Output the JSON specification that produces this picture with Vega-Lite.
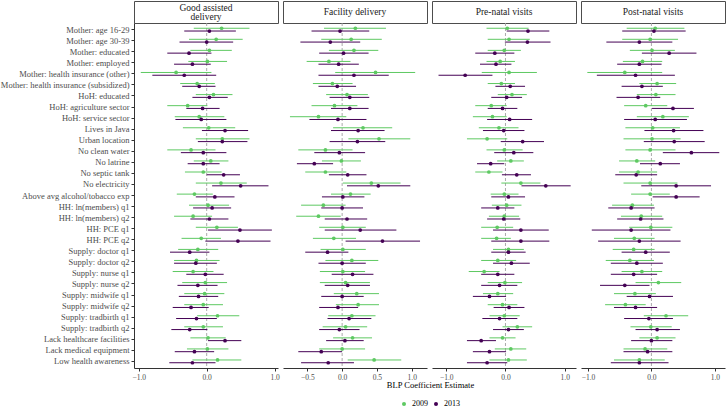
{
"$schema":"https://vega.github.io/schema/vega-lite/v6.json",
"padding":{"left":0,"top":0,"right":0,"bottom":0},
"bounds":"flush",
"columns":4,
"spacing":{"row":0,"column":5},
"datasets":{"est":[
{"o":"A","v":"Mother: age 16-29","yr":"2009","est":0.22,"lo":-0.19,"hi":0.63},
{"o":"A","v":"Mother: age 16-29","yr":"2013","est":0.04,"lo":-0.33,"hi":0.43},
{"o":"A","v":"Mother: age 30-39","yr":"2009","est":0.14,"lo":-0.26,"hi":0.53},
{"o":"A","v":"Mother: age 30-39","yr":"2013","est":0.00,"lo":-0.40,"hi":0.39},
{"o":"A","v":"Mother: educated","yr":"2009","est":0.04,"lo":-0.24,"hi":0.37},
{"o":"A","v":"Mother: educated","yr":"2013","est":-0.26,"lo":-0.58,"hi":0.07},
{"o":"A","v":"Mother: employed","yr":"2009","est":0.01,"lo":-0.27,"hi":0.30},
{"o":"A","v":"Mother: employed","yr":"2013","est":-0.21,"lo":-0.48,"hi":0.06},
{"o":"A","v":"Mother: health insurance (other)","yr":"2009","est":-0.45,"lo":-0.97,"hi":0.07},
{"o":"A","v":"Mother: health insurance (other)","yr":"2013","est":-0.33,"lo":-0.80,"hi":0.14},
{"o":"A","v":"Mother: health insurance (subsidized)","yr":"2009","est":-0.14,"lo":-0.39,"hi":0.12},
{"o":"A","v":"Mother: health insurance (subsidized)","yr":"2013","est":-0.11,"lo":-0.36,"hi":0.13},
{"o":"A","v":"HoH: educated","yr":"2009","est":0.10,"lo":-0.16,"hi":0.38},
{"o":"A","v":"HoH: educated","yr":"2013","est":0.04,"lo":-0.21,"hi":0.31},
{"o":"A","v":"HoH: agriculture sector","yr":"2009","est":-0.28,"lo":-0.58,"hi":0.01},
{"o":"A","v":"HoH: agriculture sector","yr":"2013","est":-0.06,"lo":-0.30,"hi":0.19},
{"o":"A","v":"HoH: service sector","yr":"2009","est":-0.11,"lo":-0.47,"hi":0.26},
{"o":"A","v":"HoH: service sector","yr":"2013","est":-0.08,"lo":-0.46,"hi":0.29},
{"o":"A","v":"Lives in Java","yr":"2009","est":0.03,"lo":-0.35,"hi":0.42},
{"o":"A","v":"Lives in Java","yr":"2013","est":0.27,"lo":-0.07,"hi":0.61},
{"o":"A","v":"Urban location","yr":"2009","est":0.23,"lo":-0.16,"hi":0.63},
{"o":"A","v":"Urban location","yr":"2013","est":0.23,"lo":-0.13,"hi":0.60},
{"o":"A","v":"No clean water","yr":"2009","est":-0.23,"lo":-0.58,"hi":0.13},
{"o":"A","v":"No clean water","yr":"2013","est":-0.05,"lo":-0.38,"hi":0.29},
{"o":"A","v":"No latrine","yr":"2009","est":0.06,"lo":-0.19,"hi":0.32},
{"o":"A","v":"No latrine","yr":"2013","est":-0.05,"lo":-0.28,"hi":0.19},
{"o":"A","v":"No septic tank","yr":"2009","est":-0.05,"lo":-0.32,"hi":0.22},
{"o":"A","v":"No septic tank","yr":"2013","est":0.25,"lo":0.00,"hi":0.49},
{"o":"A","v":"No electricity","yr":"2009","est":0.21,"lo":-0.16,"hi":0.59},
{"o":"A","v":"No electricity","yr":"2013","est":0.50,"lo":0.08,"hi":0.91},
{"o":"A","v":"Above avg alcohol/tobacco exp","yr":"2009","est":-0.18,"lo":-0.44,"hi":0.09},
{"o":"A","v":"Above avg alcohol/tobacco exp","yr":"2013","est":0.12,"lo":-0.16,"hi":0.41},
{"o":"A","v":"HH: ln(members) q1","yr":"2009","est":0.02,"lo":-0.26,"hi":0.33},
{"o":"A","v":"HH: ln(members) q1","yr":"2013","est":0.08,"lo":-0.20,"hi":0.36},
{"o":"A","v":"HH: ln(members) q2","yr":"2009","est":-0.20,"lo":-0.48,"hi":0.08},
{"o":"A","v":"HH: ln(members) q2","yr":"2013","est":0.04,"lo":-0.24,"hi":0.32},
{"o":"A","v":"HH: PCE q1","yr":"2009","est":0.15,"lo":-0.16,"hi":0.46},
{"o":"A","v":"HH: PCE q1","yr":"2013","est":0.49,"lo":0.02,"hi":0.96},
{"o":"A","v":"HH: PCE q2","yr":"2009","est":-0.08,"lo":-0.37,"hi":0.21},
{"o":"A","v":"HH: PCE q2","yr":"2013","est":0.46,"lo":-0.02,"hi":0.94},
{"o":"A","v":"Supply: doctor q1","yr":"2009","est":-0.13,"lo":-0.42,"hi":0.17},
{"o":"A","v":"Supply: doctor q1","yr":"2013","est":-0.25,"lo":-0.54,"hi":0.04},
{"o":"A","v":"Supply: doctor q2","yr":"2009","est":-0.15,"lo":-0.48,"hi":0.19},
{"o":"A","v":"Supply: doctor q2","yr":"2013","est":-0.16,"lo":-0.48,"hi":0.15},
{"o":"A","v":"Supply: nurse q1","yr":"2009","est":-0.20,"lo":-0.50,"hi":0.10},
{"o":"A","v":"Supply: nurse q1","yr":"2013","est":-0.02,"lo":-0.30,"hi":0.25},
{"o":"A","v":"Supply: nurse q2","yr":"2009","est":-0.02,"lo":-0.36,"hi":0.30},
{"o":"A","v":"Supply: nurse q2","yr":"2013","est":-0.13,"lo":-0.43,"hi":0.16},
{"o":"A","v":"Supply: midwife q1","yr":"2009","est":-0.03,"lo":-0.33,"hi":0.26},
{"o":"A","v":"Supply: midwife q1","yr":"2013","est":-0.12,"lo":-0.41,"hi":0.17},
{"o":"A","v":"Supply: midwife q2","yr":"2009","est":-0.05,"lo":-0.33,"hi":0.24},
{"o":"A","v":"Supply: midwife q2","yr":"2013","est":-0.23,"lo":-0.50,"hi":0.03},
{"o":"A","v":"Supply: tradbirth q1","yr":"2009","est":0.16,"lo":-0.14,"hi":0.48},
{"o":"A","v":"Supply: tradbirth q1","yr":"2013","est":-0.15,"lo":-0.45,"hi":0.15},
{"o":"A","v":"Supply: tradbirth q2","yr":"2009","est":-0.05,"lo":-0.33,"hi":0.24},
{"o":"A","v":"Supply: tradbirth q2","yr":"2013","est":-0.25,"lo":-0.52,"hi":0.01},
{"o":"A","v":"Lack healthcare facilities","yr":"2009","est":0.02,"lo":-0.24,"hi":0.28},
{"o":"A","v":"Lack healthcare facilities","yr":"2013","est":0.27,"lo":0.02,"hi":0.51},
{"o":"A","v":"Lack medical equipment","yr":"2009","est":0.01,"lo":-0.29,"hi":0.32},
{"o":"A","v":"Lack medical equipment","yr":"2013","est":-0.18,"lo":-0.47,"hi":0.11},
{"o":"A","v":"Low health awareness","yr":"2009","est":0.16,"lo":-0.21,"hi":0.51},
{"o":"A","v":"Low health awareness","yr":"2013","est":-0.21,"lo":-0.55,"hi":0.13},
{"o":"B","v":"Mother: age 16-29","yr":"2009","est":0.19,"lo":-0.26,"hi":0.63},
{"o":"B","v":"Mother: age 16-29","yr":"2013","est":-0.03,"lo":-0.44,"hi":0.39},
{"o":"B","v":"Mother: age 30-39","yr":"2009","est":0.13,"lo":-0.30,"hi":0.57},
{"o":"B","v":"Mother: age 30-39","yr":"2013","est":-0.17,"lo":-0.60,"hi":0.26},
{"o":"B","v":"Mother: educated","yr":"2009","est":0.17,"lo":-0.19,"hi":0.52},
{"o":"B","v":"Mother: educated","yr":"2013","est":0.02,"lo":-0.33,"hi":0.38},
{"o":"B","v":"Mother: employed","yr":"2009","est":-0.19,"lo":-0.51,"hi":0.12},
{"o":"B","v":"Mother: employed","yr":"2013","est":-0.05,"lo":-0.34,"hi":0.24},
{"o":"B","v":"Mother: health insurance (other)","yr":"2009","est":0.48,"lo":-0.10,"hi":1.05},
{"o":"B","v":"Mother: health insurance (other)","yr":"2013","est":0.17,"lo":-0.34,"hi":0.67},
{"o":"B","v":"Mother: health insurance (subsidized)","yr":"2009","est":-0.14,"lo":-0.42,"hi":0.15},
{"o":"B","v":"Mother: health insurance (subsidized)","yr":"2013","est":-0.07,"lo":-0.34,"hi":0.20},
{"o":"B","v":"HoH: educated","yr":"2009","est":0.07,"lo":-0.23,"hi":0.37},
{"o":"B","v":"HoH: educated","yr":"2013","est":0.11,"lo":-0.18,"hi":0.39},
{"o":"B","v":"HoH: agriculture sector","yr":"2009","est":-0.11,"lo":-0.44,"hi":0.22},
{"o":"B","v":"HoH: agriculture sector","yr":"2013","est":0.11,"lo":-0.16,"hi":0.38},
{"o":"B","v":"HoH: service sector","yr":"2009","est":-0.34,"lo":-0.75,"hi":0.06},
{"o":"B","v":"HoH: service sector","yr":"2013","est":-0.06,"lo":-0.47,"hi":0.35},
{"o":"B","v":"Lives in Java","yr":"2009","est":0.30,"lo":-0.13,"hi":0.72},
{"o":"B","v":"Lives in Java","yr":"2013","est":0.23,"lo":-0.16,"hi":0.61},
{"o":"B","v":"Urban location","yr":"2009","est":0.53,"lo":0.09,"hi":0.98},
{"o":"B","v":"Urban location","yr":"2013","est":0.22,"lo":-0.18,"hi":0.62},
{"o":"B","v":"No clean water","yr":"2009","est":-0.24,"lo":-0.63,"hi":0.15},
{"o":"B","v":"No clean water","yr":"2013","est":-0.04,"lo":-0.40,"hi":0.33},
{"o":"B","v":"No latrine","yr":"2009","est":-0.01,"lo":-0.29,"hi":0.27},
{"o":"B","v":"No latrine","yr":"2013","est":-0.40,"lo":-0.65,"hi":-0.13},
{"o":"B","v":"No septic tank","yr":"2009","est":-0.24,"lo":-0.53,"hi":0.06},
{"o":"B","v":"No septic tank","yr":"2013","est":0.08,"lo":-0.19,"hi":0.35},
{"o":"B","v":"No electricity","yr":"2009","est":0.42,"lo":0.01,"hi":0.84},
{"o":"B","v":"No electricity","yr":"2013","est":0.52,"lo":0.07,"hi":0.98},
{"o":"B","v":"Above avg alcohol/tobacco exp","yr":"2009","est":0.12,"lo":-0.16,"hi":0.41},
{"o":"B","v":"Above avg alcohol/tobacco exp","yr":"2013","est":0.01,"lo":-0.29,"hi":0.32},
{"o":"B","v":"HH: ln(members) q1","yr":"2009","est":-0.27,"lo":-0.59,"hi":0.05},
{"o":"B","v":"HH: ln(members) q1","yr":"2013","est":0.00,"lo":-0.30,"hi":0.30},
{"o":"B","v":"HH: ln(members) q2","yr":"2009","est":-0.34,"lo":-0.66,"hi":-0.02},
{"o":"B","v":"HH: ln(members) q2","yr":"2013","est":0.07,"lo":-0.25,"hi":0.36},
{"o":"B","v":"HH: PCE q1","yr":"2009","est":0.01,"lo":-0.33,"hi":0.34},
{"o":"B","v":"HH: PCE q1","yr":"2013","est":0.26,"lo":-0.25,"hi":0.78},
{"o":"B","v":"HH: PCE q2","yr":"2009","est":-0.12,"lo":-0.42,"hi":0.20},
{"o":"B","v":"HH: PCE q2","yr":"2013","est":0.58,"lo":0.05,"hi":1.12},
{"o":"B","v":"Supply: doctor q1","yr":"2009","est":0.01,"lo":-0.31,"hi":0.34},
{"o":"B","v":"Supply: doctor q1","yr":"2013","est":-0.21,"lo":-0.53,"hi":0.09},
{"o":"B","v":"Supply: doctor q2","yr":"2009","est":0.14,"lo":-0.24,"hi":0.52},
{"o":"B","v":"Supply: doctor q2","yr":"2013","est":0.00,"lo":-0.34,"hi":0.34},
{"o":"B","v":"Supply: nurse q1","yr":"2009","est":0.01,"lo":-0.32,"hi":0.33},
{"o":"B","v":"Supply: nurse q1","yr":"2013","est":0.15,"lo":-0.15,"hi":0.45},
{"o":"B","v":"Supply: nurse q2","yr":"2009","est":0.05,"lo":-0.32,"hi":0.40},
{"o":"B","v":"Supply: nurse q2","yr":"2013","est":0.08,"lo":-0.25,"hi":0.40},
{"o":"B","v":"Supply: midwife q1","yr":"2009","est":0.21,"lo":-0.12,"hi":0.53},
{"o":"B","v":"Supply: midwife q1","yr":"2013","est":0.00,"lo":-0.30,"hi":0.31},
{"o":"B","v":"Supply: midwife q2","yr":"2009","est":0.23,"lo":-0.09,"hi":0.53},
{"o":"B","v":"Supply: midwife q2","yr":"2013","est":-0.06,"lo":-0.33,"hi":0.23},
{"o":"B","v":"Supply: tradbirth q1","yr":"2009","est":0.14,"lo":-0.20,"hi":0.48},
{"o":"B","v":"Supply: tradbirth q1","yr":"2013","est":0.10,"lo":-0.21,"hi":0.42},
{"o":"B","v":"Supply: tradbirth q2","yr":"2009","est":0.05,"lo":-0.28,"hi":0.36},
{"o":"B","v":"Supply: tradbirth q2","yr":"2013","est":-0.04,"lo":-0.33,"hi":0.25},
{"o":"B","v":"Lack healthcare facilities","yr":"2009","est":0.15,"lo":-0.13,"hi":0.43},
{"o":"B","v":"Lack healthcare facilities","yr":"2013","est":0.04,"lo":-0.23,"hi":0.31},
{"o":"B","v":"Lack medical equipment","yr":"2009","est":0.00,"lo":-0.33,"hi":0.33},
{"o":"B","v":"Lack medical equipment","yr":"2013","est":-0.30,"lo":-0.63,"hi":0.00},
{"o":"B","v":"Low health awareness","yr":"2009","est":0.46,"lo":0.08,"hi":0.85},
{"o":"B","v":"Low health awareness","yr":"2013","est":-0.20,"lo":-0.59,"hi":0.17},
{"o":"C","v":"Mother: age 16-29","yr":"2009","est":0.03,"lo":-0.32,"hi":0.39},
{"o":"C","v":"Mother: age 16-29","yr":"2013","est":0.38,"lo":0.02,"hi":0.74},
{"o":"C","v":"Mother: age 30-39","yr":"2009","est":0.06,"lo":-0.30,"hi":0.41},
{"o":"C","v":"Mother: age 30-39","yr":"2013","est":0.37,"lo":-0.01,"hi":0.76},
{"o":"C","v":"Mother: educated","yr":"2009","est":-0.02,"lo":-0.30,"hi":0.26},
{"o":"C","v":"Mother: educated","yr":"2013","est":-0.18,"lo":-0.51,"hi":0.15},
{"o":"C","v":"Mother: employed","yr":"2009","est":-0.09,"lo":-0.32,"hi":0.16},
{"o":"C","v":"Mother: employed","yr":"2013","est":-0.16,"lo":-0.43,"hi":0.10},
{"o":"C","v":"Mother: health insurance (other)","yr":"2009","est":0.06,"lo":-0.40,"hi":0.53},
{"o":"C","v":"Mother: health insurance (other)","yr":"2013","est":-0.68,"lo":-1.13,"hi":-0.22},
{"o":"C","v":"Mother: health insurance (subsidized)","yr":"2009","est":-0.07,"lo":-0.30,"hi":0.16},
{"o":"C","v":"Mother: health insurance (subsidized)","yr":"2013","est":0.08,"lo":-0.17,"hi":0.33},
{"o":"C","v":"HoH: educated","yr":"2009","est":0.11,"lo":-0.13,"hi":0.36},
{"o":"C","v":"HoH: educated","yr":"2013","est":0.02,"lo":-0.24,"hi":0.28},
{"o":"C","v":"HoH: agriculture sector","yr":"2009","est":-0.24,"lo":-0.51,"hi":0.02},
{"o":"C","v":"HoH: agriculture sector","yr":"2013","est":-0.05,"lo":-0.30,"hi":0.20},
{"o":"C","v":"HoH: service sector","yr":"2009","est":-0.22,"lo":-0.55,"hi":0.02},
{"o":"C","v":"HoH: service sector","yr":"2013","est":0.07,"lo":-0.31,"hi":0.45},
{"o":"C","v":"Lives in Java","yr":"2009","est":-0.11,"lo":-0.45,"hi":0.22},
{"o":"C","v":"Lives in Java","yr":"2013","est":-0.03,"lo":-0.38,"hi":0.32},
{"o":"C","v":"Urban location","yr":"2009","est":-0.31,"lo":-0.65,"hi":0.03},
{"o":"C","v":"Urban location","yr":"2013","est":0.29,"lo":-0.08,"hi":0.65},
{"o":"C","v":"No clean water","yr":"2009","est":-0.02,"lo":-0.32,"hi":0.29},
{"o":"C","v":"No clean water","yr":"2013","est":0.14,"lo":-0.19,"hi":0.47},
{"o":"C","v":"No latrine","yr":"2009","est":0.09,"lo":-0.14,"hi":0.31},
{"o":"C","v":"No latrine","yr":"2013","est":-0.25,"lo":-0.48,"hi":-0.02},
{"o":"C","v":"No septic tank","yr":"2009","est":-0.28,"lo":-0.51,"hi":-0.05},
{"o":"C","v":"No septic tank","yr":"2013","est":0.19,"lo":-0.06,"hi":0.43},
{"o":"C","v":"No electricity","yr":"2009","est":0.26,"lo":-0.07,"hi":0.59},
{"o":"C","v":"No electricity","yr":"2013","est":0.68,"lo":0.27,"hi":1.10},
{"o":"C","v":"Above avg alcohol/tobacco exp","yr":"2009","est":-0.02,"lo":-0.25,"hi":0.22},
{"o":"C","v":"Above avg alcohol/tobacco exp","yr":"2013","est":0.05,"lo":-0.24,"hi":0.33},
{"o":"C","v":"HH: ln(members) q1","yr":"2009","est":0.02,"lo":-0.23,"hi":0.27},
{"o":"C","v":"HH: ln(members) q1","yr":"2013","est":-0.13,"lo":-0.41,"hi":0.15},
{"o":"C","v":"HH: ln(members) q2","yr":"2009","est":-0.02,"lo":-0.28,"hi":0.23},
{"o":"C","v":"HH: ln(members) q2","yr":"2013","est":-0.03,"lo":-0.31,"hi":0.25},
{"o":"C","v":"HH: PCE q1","yr":"2009","est":-0.14,"lo":-0.41,"hi":0.13},
{"o":"C","v":"HH: PCE q1","yr":"2013","est":0.26,"lo":-0.21,"hi":0.73},
{"o":"C","v":"HH: PCE q2","yr":"2009","est":-0.15,"lo":-0.41,"hi":0.09},
{"o":"C","v":"HH: PCE q2","yr":"2013","est":0.26,"lo":-0.24,"hi":0.74},
{"o":"C","v":"Supply: doctor q1","yr":"2009","est":0.05,"lo":-0.21,"hi":0.31},
{"o":"C","v":"Supply: doctor q1","yr":"2013","est":0.05,"lo":-0.24,"hi":0.34},
{"o":"C","v":"Supply: doctor q2","yr":"2009","est":-0.13,"lo":-0.41,"hi":0.18},
{"o":"C","v":"Supply: doctor q2","yr":"2013","est":0.10,"lo":-0.21,"hi":0.41},
{"o":"C","v":"Supply: nurse q1","yr":"2009","est":-0.36,"lo":-0.62,"hi":-0.10},
{"o":"C","v":"Supply: nurse q1","yr":"2013","est":-0.13,"lo":-0.41,"hi":0.15},
{"o":"C","v":"Supply: nurse q2","yr":"2009","est":-0.01,"lo":-0.30,"hi":0.28},
{"o":"C","v":"Supply: nurse q2","yr":"2013","est":-0.10,"lo":-0.41,"hi":0.20},
{"o":"C","v":"Supply: midwife q1","yr":"2009","est":-0.13,"lo":-0.38,"hi":0.13},
{"o":"C","v":"Supply: midwife q1","yr":"2013","est":-0.27,"lo":-0.55,"hi":0.01},
{"o":"C","v":"Supply: midwife q2","yr":"2009","est":-0.05,"lo":-0.30,"hi":0.20},
{"o":"C","v":"Supply: midwife q2","yr":"2013","est":0.06,"lo":-0.20,"hi":0.32},
{"o":"C","v":"Supply: tradbirth q1","yr":"2009","est":-0.02,"lo":-0.27,"hi":0.24},
{"o":"C","v":"Supply: tradbirth q1","yr":"2013","est":-0.10,"lo":-0.39,"hi":0.20},
{"o":"C","v":"Supply: tradbirth q2","yr":"2009","est":0.20,"lo":-0.05,"hi":0.45},
{"o":"C","v":"Supply: tradbirth q2","yr":"2013","est":0.05,"lo":-0.21,"hi":0.31},
{"o":"C","v":"Lack healthcare facilities","yr":"2009","est":-0.05,"lo":-0.27,"hi":0.17},
{"o":"C","v":"Lack healthcare facilities","yr":"2013","est":-0.41,"lo":-0.65,"hi":-0.16},
{"o":"C","v":"Lack medical equipment","yr":"2009","est":0.09,"lo":-0.18,"hi":0.35},
{"o":"C","v":"Lack medical equipment","yr":"2013","est":-0.27,"lo":-0.55,"hi":0.01},
{"o":"C","v":"Low health awareness","yr":"2009","est":0.05,"lo":-0.27,"hi":0.36},
{"o":"C","v":"Low health awareness","yr":"2013","est":-0.31,"lo":-0.65,"hi":0.03},
{"o":"D","v":"Mother: age 16-29","yr":"2009","est":0.06,"lo":-0.39,"hi":0.52},
{"o":"D","v":"Mother: age 16-29","yr":"2013","est":0.04,"lo":-0.46,"hi":0.54},
{"o":"D","v":"Mother: age 30-39","yr":"2009","est":-0.02,"lo":-0.46,"hi":0.42},
{"o":"D","v":"Mother: age 30-39","yr":"2013","est":-0.19,"lo":-0.71,"hi":0.33},
{"o":"D","v":"Mother: educated","yr":"2009","est":0.01,"lo":-0.34,"hi":0.37},
{"o":"D","v":"Mother: educated","yr":"2013","est":0.28,"lo":-0.15,"hi":0.71},
{"o":"D","v":"Mother: employed","yr":"2009","est":-0.14,"lo":-0.45,"hi":0.17},
{"o":"D","v":"Mother: employed","yr":"2013","est":-0.19,"lo":-0.54,"hi":0.16},
{"o":"D","v":"Mother: health insurance (other)","yr":"2009","est":-0.42,"lo":-1.01,"hi":0.17},
{"o":"D","v":"Mother: health insurance (other)","yr":"2013","est":-0.25,"lo":-0.86,"hi":0.37},
{"o":"D","v":"Mother: health insurance (subsidized)","yr":"2009","est":0.09,"lo":-0.19,"hi":0.39},
{"o":"D","v":"Mother: health insurance (subsidized)","yr":"2013","est":-0.15,"lo":-0.47,"hi":0.18},
{"o":"D","v":"HoH: educated","yr":"2009","est":0.07,"lo":-0.23,"hi":0.38},
{"o":"D","v":"HoH: educated","yr":"2013","est":-0.21,"lo":-0.55,"hi":0.14},
{"o":"D","v":"HoH: agriculture sector","yr":"2009","est":-0.09,"lo":-0.43,"hi":0.25},
{"o":"D","v":"HoH: agriculture sector","yr":"2013","est":0.34,"lo":0.01,"hi":0.67},
{"o":"D","v":"HoH: service sector","yr":"2009","est":0.18,"lo":-0.23,"hi":0.59},
{"o":"D","v":"HoH: service sector","yr":"2013","est":0.06,"lo":-0.43,"hi":0.56},
{"o":"D","v":"Lives in Java","yr":"2009","est":0.02,"lo":-0.41,"hi":0.45},
{"o":"D","v":"Lives in Java","yr":"2013","est":0.35,"lo":-0.11,"hi":0.82},
{"o":"D","v":"Urban location","yr":"2009","est":0.01,"lo":-0.44,"hi":0.46},
{"o":"D","v":"Urban location","yr":"2013","est":0.36,"lo":-0.12,"hi":0.84},
{"o":"D","v":"No clean water","yr":"2009","est":-0.02,"lo":-0.41,"hi":0.38},
{"o":"D","v":"No clean water","yr":"2013","est":0.63,"lo":0.18,"hi":1.07},
{"o":"D","v":"No latrine","yr":"2009","est":-0.23,"lo":-0.51,"hi":0.06},
{"o":"D","v":"No latrine","yr":"2013","est":0.14,"lo":-0.18,"hi":0.45},
{"o":"D","v":"No septic tank","yr":"2009","est":-0.21,"lo":-0.51,"hi":0.09},
{"o":"D","v":"No septic tank","yr":"2013","est":-0.24,"lo":-0.57,"hi":0.09},
{"o":"D","v":"No electricity","yr":"2009","est":-0.02,"lo":-0.44,"hi":0.41},
{"o":"D","v":"No electricity","yr":"2013","est":0.39,"lo":-0.16,"hi":0.94},
{"o":"D","v":"Above avg alcohol/tobacco exp","yr":"2009","est":-0.02,"lo":-0.32,"hi":0.29},
{"o":"D","v":"Above avg alcohol/tobacco exp","yr":"2013","est":0.39,"lo":0.02,"hi":0.76},
{"o":"D","v":"HH: ln(members) q1","yr":"2009","est":-0.30,"lo":-0.62,"hi":0.04},
{"o":"D","v":"HH: ln(members) q1","yr":"2013","est":-0.32,"lo":-0.68,"hi":0.05},
{"o":"D","v":"HH: ln(members) q2","yr":"2009","est":-0.16,"lo":-0.48,"hi":0.17},
{"o":"D","v":"HH: ln(members) q2","yr":"2013","est":-0.17,"lo":-0.54,"hi":0.19},
{"o":"D","v":"HH: PCE q1","yr":"2009","est":-0.01,"lo":-0.35,"hi":0.33},
{"o":"D","v":"HH: PCE q1","yr":"2013","est":-0.32,"lo":-0.94,"hi":0.30},
{"o":"D","v":"HH: PCE q2","yr":"2009","est":-0.27,"lo":-0.59,"hi":0.05},
{"o":"D","v":"HH: PCE q2","yr":"2013","est":-0.19,"lo":-0.84,"hi":0.46},
{"o":"D","v":"Supply: doctor q1","yr":"2009","est":-0.28,"lo":-0.61,"hi":0.05},
{"o":"D","v":"Supply: doctor q1","yr":"2013","est":-0.09,"lo":-0.47,"hi":0.29},
{"o":"D","v":"Supply: doctor q2","yr":"2009","est":-0.34,"lo":-0.72,"hi":0.04},
{"o":"D","v":"Supply: doctor q2","yr":"2013","est":-0.23,"lo":-0.64,"hi":0.18},
{"o":"D","v":"Supply: nurse q1","yr":"2009","est":-0.15,"lo":-0.47,"hi":0.17},
{"o":"D","v":"Supply: nurse q1","yr":"2013","est":-0.28,"lo":-0.64,"hi":0.09},
{"o":"D","v":"Supply: nurse q2","yr":"2009","est":0.11,"lo":-0.25,"hi":0.47},
{"o":"D","v":"Supply: nurse q2","yr":"2013","est":-0.42,"lo":-0.81,"hi":-0.03},
{"o":"D","v":"Supply: midwife q1","yr":"2009","est":-0.26,"lo":-0.59,"hi":0.07},
{"o":"D","v":"Supply: midwife q1","yr":"2013","est":-0.03,"lo":-0.39,"hi":0.34},
{"o":"D","v":"Supply: midwife q2","yr":"2009","est":-0.41,"lo":-0.73,"hi":-0.09},
{"o":"D","v":"Supply: midwife q2","yr":"2013","est":-0.25,"lo":-0.59,"hi":0.09},
{"o":"D","v":"Supply: tradbirth q1","yr":"2009","est":0.23,"lo":-0.12,"hi":0.58},
{"o":"D","v":"Supply: tradbirth q1","yr":"2013","est":-0.04,"lo":-0.43,"hi":0.34},
{"o":"D","v":"Supply: tradbirth q2","yr":"2009","est":-0.01,"lo":-0.33,"hi":0.32},
{"o":"D","v":"Supply: tradbirth q2","yr":"2013","est":0.09,"lo":-0.25,"hi":0.45},
{"o":"D","v":"Lack healthcare facilities","yr":"2009","est":0.09,"lo":-0.19,"hi":0.38},
{"o":"D","v":"Lack healthcare facilities","yr":"2013","est":0.00,"lo":-0.32,"hi":0.33},
{"o":"D","v":"Lack medical equipment","yr":"2009","est":-0.10,"lo":-0.44,"hi":0.25},
{"o":"D","v":"Lack medical equipment","yr":"2013","est":-0.06,"lo":-0.44,"hi":0.33},
{"o":"D","v":"Low health awareness","yr":"2009","est":-0.19,"lo":-0.59,"hi":0.21},
{"o":"D","v":"Low health awareness","yr":"2013","est":-0.19,"lo":-0.64,"hi":0.27}
]},
"concat":[
 {"width":144,"height":22,"data":{"values":[{"t":"Good assisted\ndelivery"}]},"view":{"stroke":"#4d4d4d","strokeWidth":1},"mark":{"type":"text","lineBreak":"\n","font":"Liberation Serif","fontSize":9.5,"color":"#1a1a1a","lineHeight":9.5,"dy":-4.5},"encoding":{"text":{"field":"t","type":"nominal"}}},
 {"width":144,"height":22,"data":{"values":[{"t":"Facility delivery"}]},"view":{"stroke":"#4d4d4d","strokeWidth":1},"mark":{"type":"text","font":"Liberation Serif","fontSize":9.5,"color":"#1a1a1a"},"encoding":{"text":{"field":"t","type":"nominal"}}},
 {"width":144,"height":22,"data":{"values":[{"t":"Pre-natal visits"}]},"view":{"stroke":"#4d4d4d","strokeWidth":1},"mark":{"type":"text","font":"Liberation Serif","fontSize":9.5,"color":"#1a1a1a"},"encoding":{"text":{"field":"t","type":"nominal"}}},
 {"width":144,"height":22,"data":{"values":[{"t":"Post-natal visits"}]},"view":{"stroke":"#4d4d4d","strokeWidth":1},"mark":{"type":"text","font":"Liberation Serif","fontSize":9.5,"color":"#1a1a1a"},"encoding":{"text":{"field":"t","type":"nominal"}}},
 {"width":144,"height":345,"view":{"stroke":null},"layer":[
  {"data":{"values":[{}]},"mark":{"type":"rule","color":"#a0a0a0","strokeDash":[3,2],"strokeWidth":0.9},"encoding":{"x":{"datum":0,"type":"quantitative","title":null,"scale":{"domain":[-1.07,1.05],"nice":false,"zero":false},"axis":{"values":[-1,-0.5,0,0.5,1],"format":".1f","labelFlush":false}}}},
  {"data":{"name":"est"},"transform":[{"filter":"datum.o==='A'"}],"mark":{"type":"rule","strokeWidth":1},"encoding":{"x":{"field":"lo","type":"quantitative","title":null},"x2":{"field":"hi"},
   "y":{"field":"v","type":"nominal","title":null,"sort":["Mother: age 16-29","Mother: age 30-39","Mother: educated","Mother: employed","Mother: health insurance (other)","Mother: health insurance (subsidized)","HoH: educated","HoH: agriculture sector","HoH: service sector","Lives in Java","Urban location","No clean water","No latrine","No septic tank","No electricity","Above avg alcohol/tobacco exp","HH: ln(members) q1","HH: ln(members) q2","HH: PCE q1","HH: PCE q2","Supply: doctor q1","Supply: doctor q2","Supply: nurse q1","Supply: nurse q2","Supply: midwife q1","Supply: midwife q2","Supply: tradbirth q1","Supply: tradbirth q2","Lack healthcare facilities","Lack medical equipment","Low health awareness"],"scale":{"paddingInner":0,"paddingOuter":0.1},"axis":{"labelFontSize":8.5,"labelLimit":0}},
   "yOffset":{"field":"yr","type":"nominal","scale":{"paddingInner":0,"paddingOuter":2.5}},
   "color":{"field":"yr","type":"nominal","scale":{"domain":["2009","2013"],"range":["#5ec962","#440154"]},"legend":{"title":null}}}},
  {"data":{"name":"est"},"transform":[{"filter":"datum.o==='A'"}],"mark":{"type":"circle","size":14,"opacity":1},"encoding":{"x":{"field":"est","type":"quantitative","title":null},
   "y":{"field":"v","type":"nominal","title":null,"sort":["Mother: age 16-29","Mother: age 30-39","Mother: educated","Mother: employed","Mother: health insurance (other)","Mother: health insurance (subsidized)","HoH: educated","HoH: agriculture sector","HoH: service sector","Lives in Java","Urban location","No clean water","No latrine","No septic tank","No electricity","Above avg alcohol/tobacco exp","HH: ln(members) q1","HH: ln(members) q2","HH: PCE q1","HH: PCE q2","Supply: doctor q1","Supply: doctor q2","Supply: nurse q1","Supply: nurse q2","Supply: midwife q1","Supply: midwife q2","Supply: tradbirth q1","Supply: tradbirth q2","Lack healthcare facilities","Lack medical equipment","Low health awareness"],"scale":{"paddingInner":0,"paddingOuter":0.1},"axis":{"labelFontSize":8.5,"labelLimit":0}},
   "yOffset":{"field":"yr","type":"nominal","scale":{"paddingInner":0,"paddingOuter":2.5}},
   "color":{"field":"yr","type":"nominal","legend":{"title":null}}}}
 ]},
 {"width":144,"height":345,"view":{"stroke":null},"layer":[
  {"data":{"values":[{}]},"mark":{"type":"rule","color":"#a0a0a0","strokeDash":[3,2],"strokeWidth":0.9},"encoding":{"x":{"datum":0,"type":"quantitative","title":"BLP Coefficient Estimate","scale":{"domain":[-0.85,1.22],"nice":false,"zero":false},"axis":{"values":[-1,-0.5,0,0.5,1],"format":".1f","labelFlush":false,"titleX":147,"titleAlign":"center","titlePadding":0}}}},
  {"data":{"name":"est"},"transform":[{"filter":"datum.o==='B'"}],"mark":{"type":"rule","strokeWidth":1},"encoding":{"x":{"field":"lo","type":"quantitative","title":"BLP Coefficient Estimate"},"x2":{"field":"hi"},
   "y":{"field":"v","type":"nominal","title":null,"sort":["Mother: age 16-29","Mother: age 30-39","Mother: educated","Mother: employed","Mother: health insurance (other)","Mother: health insurance (subsidized)","HoH: educated","HoH: agriculture sector","HoH: service sector","Lives in Java","Urban location","No clean water","No latrine","No septic tank","No electricity","Above avg alcohol/tobacco exp","HH: ln(members) q1","HH: ln(members) q2","HH: PCE q1","HH: PCE q2","Supply: doctor q1","Supply: doctor q2","Supply: nurse q1","Supply: nurse q2","Supply: midwife q1","Supply: midwife q2","Supply: tradbirth q1","Supply: tradbirth q2","Lack healthcare facilities","Lack medical equipment","Low health awareness"],"scale":{"paddingInner":0,"paddingOuter":0.1},"axis":null},
   "yOffset":{"field":"yr","type":"nominal","scale":{"paddingInner":0,"paddingOuter":2.5}},
   "color":{"field":"yr","type":"nominal","legend":{"title":null}}}},
  {"data":{"name":"est"},"transform":[{"filter":"datum.o==='B'"}],"mark":{"type":"circle","size":14,"opacity":1},"encoding":{"x":{"field":"est","type":"quantitative","title":"BLP Coefficient Estimate"},
   "y":{"field":"v","type":"nominal","title":null,"sort":["Mother: age 16-29","Mother: age 30-39","Mother: educated","Mother: employed","Mother: health insurance (other)","Mother: health insurance (subsidized)","HoH: educated","HoH: agriculture sector","HoH: service sector","Lives in Java","Urban location","No clean water","No latrine","No septic tank","No electricity","Above avg alcohol/tobacco exp","HH: ln(members) q1","HH: ln(members) q2","HH: PCE q1","HH: PCE q2","Supply: doctor q1","Supply: doctor q2","Supply: nurse q1","Supply: nurse q2","Supply: midwife q1","Supply: midwife q2","Supply: tradbirth q1","Supply: tradbirth q2","Lack healthcare facilities","Lack medical equipment","Low health awareness"],"scale":{"paddingInner":0,"paddingOuter":0.1},"axis":null},
   "yOffset":{"field":"yr","type":"nominal","scale":{"paddingInner":0,"paddingOuter":2.5}},
   "color":{"field":"yr","type":"nominal","legend":{"title":null}}}}
 ]},
 {"width":144,"height":345,"view":{"stroke":null},"layer":[
  {"data":{"values":[{}]},"mark":{"type":"rule","color":"#a0a0a0","strokeDash":[3,2],"strokeWidth":0.9},"encoding":{"x":{"datum":0,"type":"quantitative","title":null,"scale":{"domain":[-1.24,1.19],"nice":false,"zero":false},"axis":{"values":[-1,-0.5,0,0.5,1],"format":".1f","labelFlush":false}}}},
  {"data":{"name":"est"},"transform":[{"filter":"datum.o==='C'"}],"mark":{"type":"rule","strokeWidth":1},"encoding":{"x":{"field":"lo","type":"quantitative","title":null},"x2":{"field":"hi"},
   "y":{"field":"v","type":"nominal","title":null,"sort":["Mother: age 16-29","Mother: age 30-39","Mother: educated","Mother: employed","Mother: health insurance (other)","Mother: health insurance (subsidized)","HoH: educated","HoH: agriculture sector","HoH: service sector","Lives in Java","Urban location","No clean water","No latrine","No septic tank","No electricity","Above avg alcohol/tobacco exp","HH: ln(members) q1","HH: ln(members) q2","HH: PCE q1","HH: PCE q2","Supply: doctor q1","Supply: doctor q2","Supply: nurse q1","Supply: nurse q2","Supply: midwife q1","Supply: midwife q2","Supply: tradbirth q1","Supply: tradbirth q2","Lack healthcare facilities","Lack medical equipment","Low health awareness"],"scale":{"paddingInner":0,"paddingOuter":0.1},"axis":null},
   "yOffset":{"field":"yr","type":"nominal","scale":{"paddingInner":0,"paddingOuter":2.5}},
   "color":{"field":"yr","type":"nominal","legend":{"title":null}}}},
  {"data":{"name":"est"},"transform":[{"filter":"datum.o==='C'"}],"mark":{"type":"circle","size":14,"opacity":1},"encoding":{"x":{"field":"est","type":"quantitative","title":null},
   "y":{"field":"v","type":"nominal","title":null,"sort":["Mother: age 16-29","Mother: age 30-39","Mother: educated","Mother: employed","Mother: health insurance (other)","Mother: health insurance (subsidized)","HoH: educated","HoH: agriculture sector","HoH: service sector","Lives in Java","Urban location","No clean water","No latrine","No septic tank","No electricity","Above avg alcohol/tobacco exp","HH: ln(members) q1","HH: ln(members) q2","HH: PCE q1","HH: PCE q2","Supply: doctor q1","Supply: doctor q2","Supply: nurse q1","Supply: nurse q2","Supply: midwife q1","Supply: midwife q2","Supply: tradbirth q1","Supply: tradbirth q2","Lack healthcare facilities","Lack medical equipment","Low health awareness"],"scale":{"paddingInner":0,"paddingOuter":0.1},"axis":null},
   "yOffset":{"field":"yr","type":"nominal","scale":{"paddingInner":0,"paddingOuter":2.5}},
   "color":{"field":"yr","type":"nominal","legend":{"title":null}}}}
 ]},
 {"width":144,"height":345,"view":{"stroke":null},"layer":[
  {"data":{"values":[{}]},"mark":{"type":"rule","color":"#a0a0a0","strokeDash":[3,2],"strokeWidth":0.9},"encoding":{"x":{"datum":0,"type":"quantitative","title":null,"scale":{"domain":[-1.11,1.16],"nice":false,"zero":false},"axis":{"values":[-1,-0.5,0,0.5,1],"format":".1f","labelFlush":false}}}},
  {"data":{"name":"est"},"transform":[{"filter":"datum.o==='D'"}],"mark":{"type":"rule","strokeWidth":1},"encoding":{"x":{"field":"lo","type":"quantitative","title":null},"x2":{"field":"hi"},
   "y":{"field":"v","type":"nominal","title":null,"sort":["Mother: age 16-29","Mother: age 30-39","Mother: educated","Mother: employed","Mother: health insurance (other)","Mother: health insurance (subsidized)","HoH: educated","HoH: agriculture sector","HoH: service sector","Lives in Java","Urban location","No clean water","No latrine","No septic tank","No electricity","Above avg alcohol/tobacco exp","HH: ln(members) q1","HH: ln(members) q2","HH: PCE q1","HH: PCE q2","Supply: doctor q1","Supply: doctor q2","Supply: nurse q1","Supply: nurse q2","Supply: midwife q1","Supply: midwife q2","Supply: tradbirth q1","Supply: tradbirth q2","Lack healthcare facilities","Lack medical equipment","Low health awareness"],"scale":{"paddingInner":0,"paddingOuter":0.1},"axis":null},
   "yOffset":{"field":"yr","type":"nominal","scale":{"paddingInner":0,"paddingOuter":2.5}},
   "color":{"field":"yr","type":"nominal","legend":{"title":null}}}},
  {"data":{"name":"est"},"transform":[{"filter":"datum.o==='D'"}],"mark":{"type":"circle","size":14,"opacity":1},"encoding":{"x":{"field":"est","type":"quantitative","title":null},
   "y":{"field":"v","type":"nominal","title":null,"sort":["Mother: age 16-29","Mother: age 30-39","Mother: educated","Mother: employed","Mother: health insurance (other)","Mother: health insurance (subsidized)","HoH: educated","HoH: agriculture sector","HoH: service sector","Lives in Java","Urban location","No clean water","No latrine","No septic tank","No electricity","Above avg alcohol/tobacco exp","HH: ln(members) q1","HH: ln(members) q2","HH: PCE q1","HH: PCE q2","Supply: doctor q1","Supply: doctor q2","Supply: nurse q1","Supply: nurse q2","Supply: midwife q1","Supply: midwife q2","Supply: tradbirth q1","Supply: tradbirth q2","Lack healthcare facilities","Lack medical equipment","Low health awareness"],"scale":{"paddingInner":0,"paddingOuter":0.1},"axis":null},
   "yOffset":{"field":"yr","type":"nominal","scale":{"paddingInner":0,"paddingOuter":2.5}},
   "color":{"field":"yr","type":"nominal","legend":{"title":null}}}}
 ]}
],
"config":{
 "font":"Liberation Serif",
 "view":{"stroke":null},
 "axis":{"labelFont":"Liberation Serif","labelFontSize":7.5,"labelColor":"#4d4d4d","domainColor":"#333333","tickColor":"#333333","grid":false,"tickSize":3,"labelPadding":2,"titleFont":"Liberation Serif","titleFontWeight":"normal","titleFontSize":8.5,"titleColor":"#000000"},
 "legend":{"orient":"none","legendX":266,"legendY":399,"direction":"horizontal","symbolType":"circle","symbolSize":16,"symbolStrokeWidth":0,"labelFont":"Liberation Serif","labelFontSize":8,"labelColor":"#000000","columnPadding":4,"labelOffset":4}
}
}
